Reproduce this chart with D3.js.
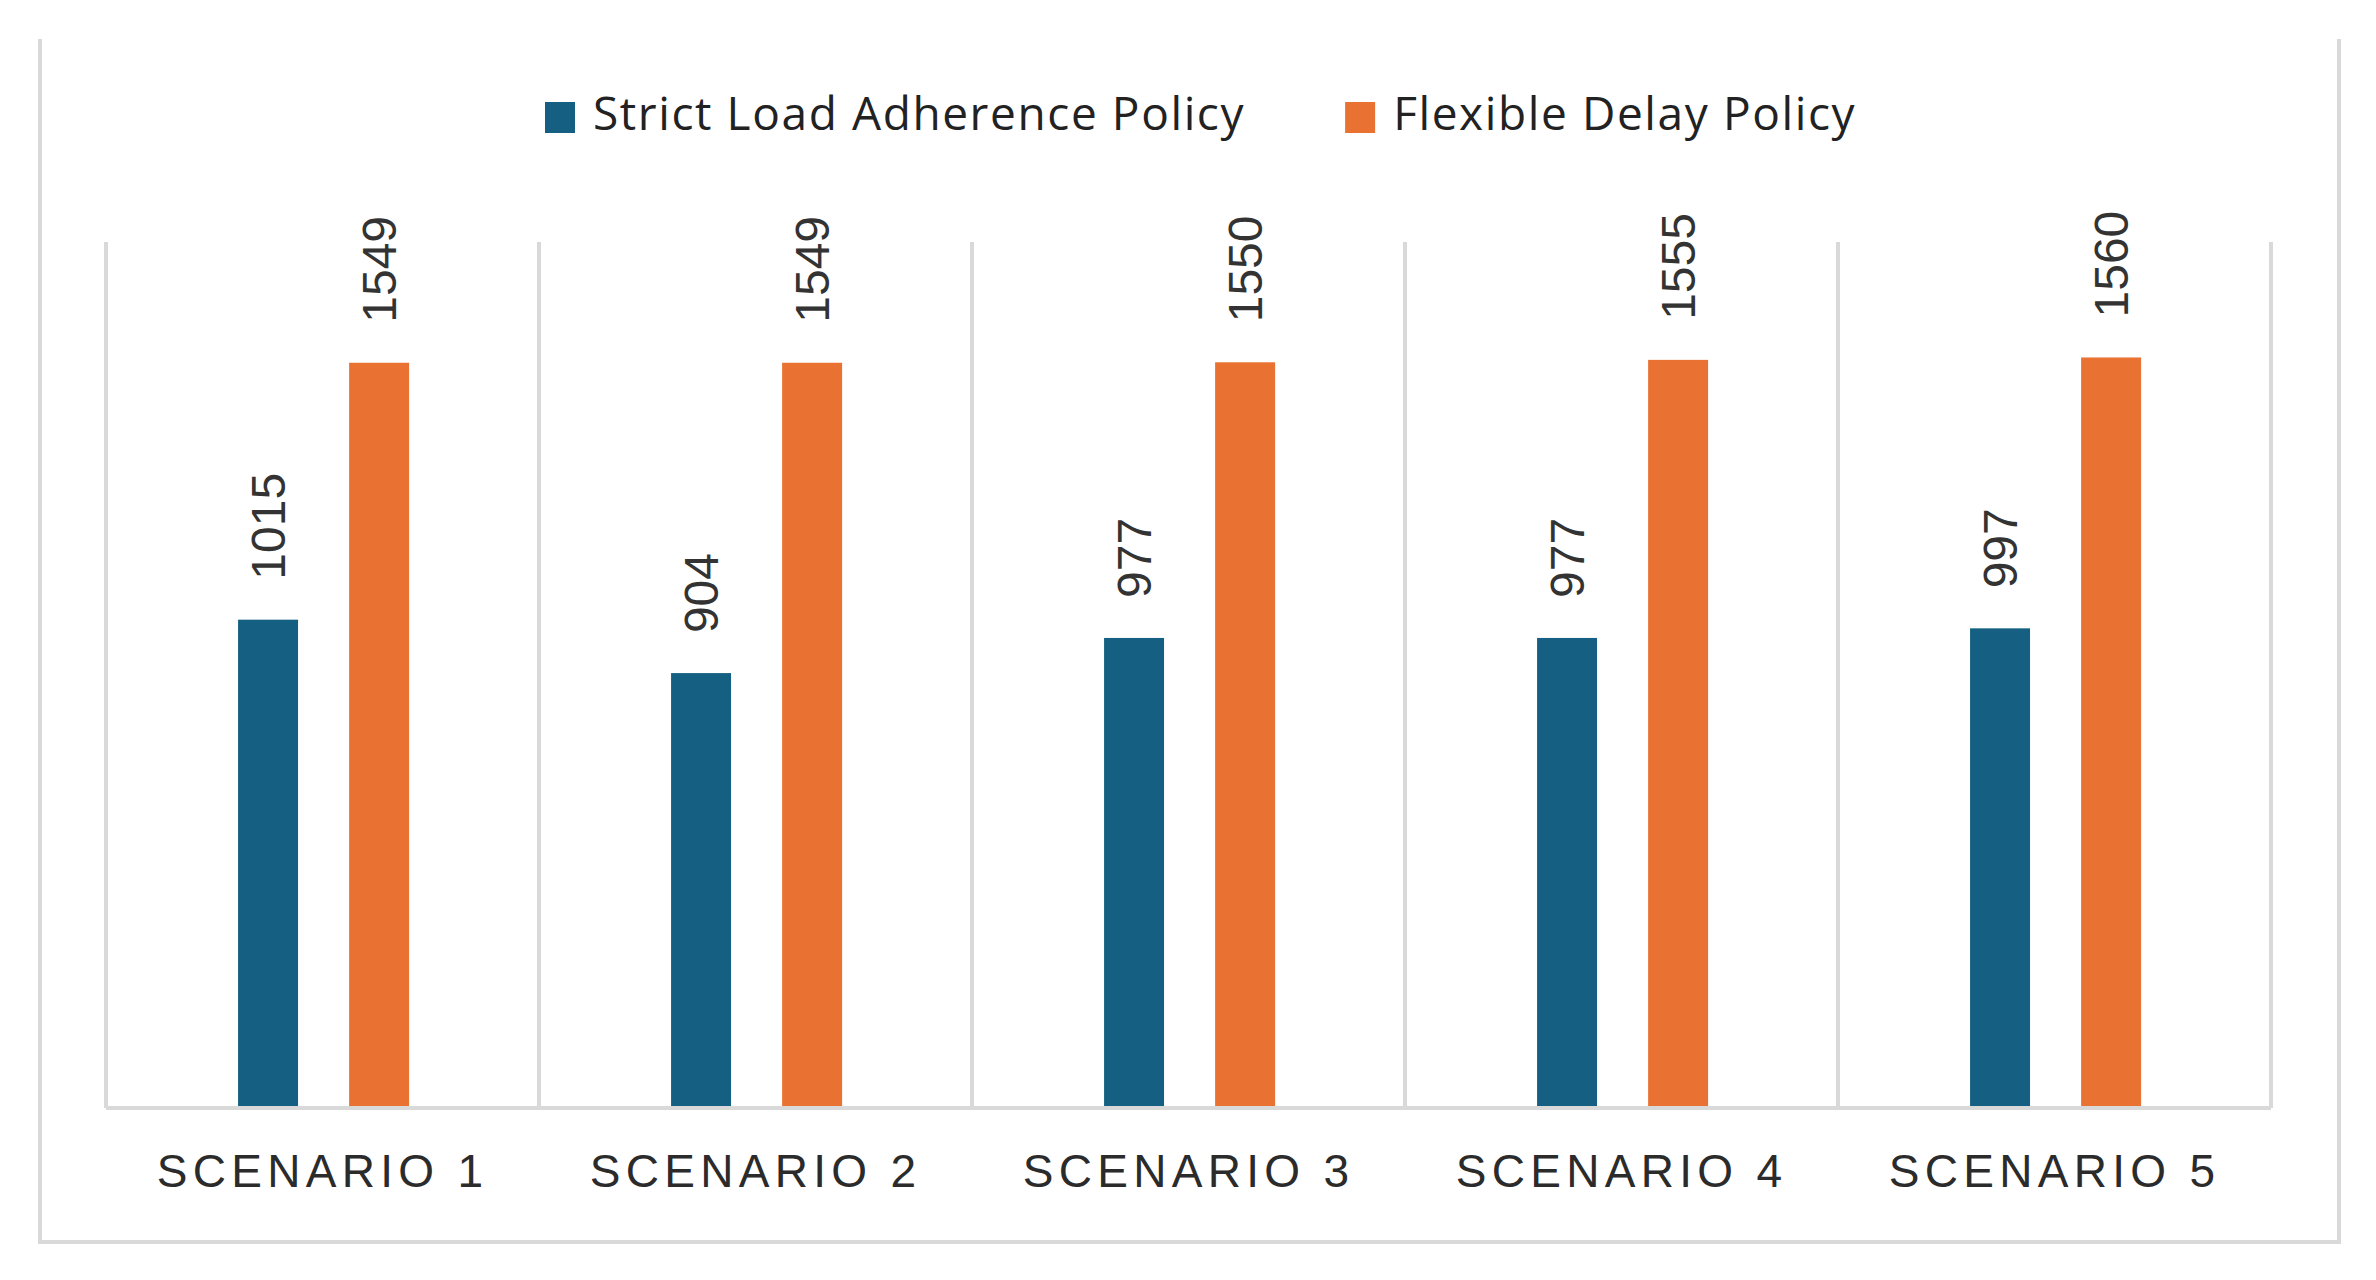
<!DOCTYPE html>
<html>
<head>
<meta charset="utf-8">
<script src="https://cdn.jsdelivr.net/npm/d3@7"></script>
<style>
  html, body { margin: 0; padding: 0; background: #fff; }
</style>
</head>
<body>
<div id="chart"></div>
<script>
const categories = ["SCENARIO 1", "SCENARIO 2", "SCENARIO 3", "SCENARIO 4", "SCENARIO 5"];
const seriesNames = ["Strict Load Adherence Policy", "Flexible Delay Policy"];
const strictValues = [1015, 904, 977, 977, 997];
const flexibleValues = [1549, 1549, 1550, 1555, 1560];
const colors = ["#156082", "#E97132"];

const width = 2376;
const height = 1280;

const svg = d3.select("#chart")
  .append("svg")
  .attr("width", width)
  .attr("height", height)
  .style("font-family", "'Liberation Sans', Arial, sans-serif");

svg.append("rect").attr("width", width).attr("height", height).attr("fill", "#fff");

// outer frame (left, bottom, right)
const frame = { left: 40, right: 2339, top: 39, bottom: 1242 };
svg.append("path")
  .attr("d", `M${frame.left},${frame.top}V${frame.bottom}H${frame.right}V${frame.top}`)
  .attr("fill", "none")
  .attr("stroke", "#d9d9d9")
  .attr("stroke-width", 4);

const x0 = d3.scaleBand()
  .domain(categories)
  .range([106, 2271])
  .padding(0);

const bw = x0.bandwidth();

const x1 = d3.scaleBand()
  .domain(seriesNames)
  .range([bw * 0.305, bw * 0.70])
  .paddingInner(0.46);

const y = d3.scaleLinear()
  .domain([0, 1800])
  .range([1108, 242]);

const color = d3.scaleOrdinal().domain(seriesNames).range(colors);

// vertical category separators
const edges = categories.map(c => x0(c)).concat([x0.range()[1]]);
svg.append("g")
  .selectAll("line")
  .data(edges)
  .join("line")
  .attr("x1", d => d).attr("x2", d => d)
  .attr("y1", y(1800)).attr("y2", y(0))
  .attr("stroke", "#d9d9d9")
  .attr("stroke-width", 4);

const rows = categories.map((c, i) => ({
  category: c,
  values: [
    { series: seriesNames[0], value: strictValues[i] },
    { series: seriesNames[1], value: flexibleValues[i] }
  ]
}));

const groups = svg.append("g")
  .selectAll("g")
  .data(rows)
  .join("g")
  .attr("transform", d => `translate(${x0(d.category)},0)`);

groups.selectAll("rect")
  .data(d => d.values)
  .join("rect")
  .attr("x", d => x1(d.series))
  .attr("width", x1.bandwidth())
  .attr("y", d => y(d.value))
  .attr("height", d => y(0) - y(d.value))
  .attr("fill", d => color(d.series));

// rotated data labels
groups.selectAll("text")
  .data(d => d.values)
  .join("text")
  .attr("transform", d => `translate(${x1(d.series) + x1.bandwidth() / 2},${y(d.value) - 40}) rotate(-90)`)
  .attr("dy", "0.36em")
  .attr("text-anchor", "start")
  .attr("font-size", 48)
  .attr("fill", "#333")
  .text(d => d.value);

// baseline
svg.append("line")
  .attr("x1", x0.range()[0]).attr("x2", x0.range()[1])
  .attr("y1", y(0)).attr("y2", y(0))
  .attr("stroke", "#d9d9d9")
  .attr("stroke-width", 4);

// category labels
svg.append("g")
  .selectAll("text")
  .data(categories)
  .join("text")
  .attr("x", d => x0(d) + bw / 2)
  .attr("y", 1187)
  .attr("text-anchor", "middle")
  .attr("font-size", 46)
  .attr("letter-spacing", "5.3px")
  .attr("fill", "#2b2b2b")
  .text(d => d);

// legend
const legend = svg.append("g").style("font-family", "'Open Sans', sans-serif");
let lx = 545;
seriesNames.forEach((name, i) => {
  legend.append("rect")
    .attr("x", lx).attr("y", 102)
    .attr("width", 30).attr("height", 31)
    .attr("fill", colors[i]);
  const t = legend.append("text")
    .attr("x", lx + 48)
    .attr("y", 130)
    .attr("font-size", 46)
    .attr("letter-spacing", "1.6px")
    .attr("fill", "#222")
    .text(name);
  lx = lx + 48 + t.node().getComputedTextLength() + 100;
});
</script>
</body>
</html>
